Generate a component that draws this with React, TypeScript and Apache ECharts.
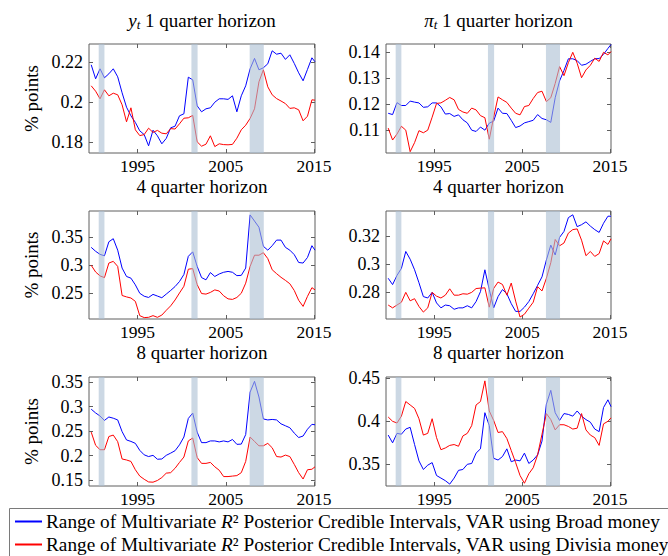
import React, { useEffect, useRef } from "react";
import * as echarts from "echarts";

// Semiannual sample dates (decimal years)
const times = [
  1989.75, 1990.25, 1990.75, 1991.25, 1991.75, 1992.25, 1992.75, 1993.25, 1993.75, 1994.25,
  1994.75, 1995.25, 1995.75, 1996.25, 1996.75, 1997.25, 1997.75, 1998.25, 1998.75, 1999.25,
  1999.75, 2000.25, 2000.75, 2001.25, 2001.75, 2002.25, 2002.75, 2003.25, 2003.75, 2004.25,
  2004.75, 2005.25, 2005.75, 2006.25, 2006.75, 2007.25, 2007.75, 2008.25, 2008.75, 2009.25,
  2009.75, 2010.25, 2010.75, 2011.25, 2011.75, 2012.25, 2012.75, 2013.25, 2013.75, 2014.25,
  2014.75, 2015.1,
];

// y_t, 1 quarter horizon
const yt1Broad = [
  0.2185, 0.2115, 0.2165, 0.212, 0.214, 0.2165, 0.2125, 0.2045, 0.1973, 0.193,
  0.1897, 0.1855, 0.1836, 0.178, 0.1858, 0.183, 0.179, 0.1817, 0.187, 0.1878,
  0.193, 0.194, 0.2123, 0.211, 0.198, 0.195, 0.1965, 0.197, 0.1998, 0.2015,
  0.2015, 0.2012, 0.203, 0.195, 0.203, 0.208, 0.2165, 0.2217, 0.216, 0.217,
  0.219, 0.2255, 0.2238, 0.2243, 0.2212, 0.2235, 0.2192, 0.2145, 0.2105, 0.2162,
  0.222, 0.22,
];
const yt1Divisia = [
  0.208, 0.2053, 0.2015, 0.206, 0.203, 0.2043, 0.2035, 0.1985, 0.19, 0.197,
  0.186, 0.1831, 0.1836, 0.1868, 0.1847, 0.1857, 0.1843, 0.184, 0.1866, 0.1864,
  0.189, 0.1918, 0.192, 0.1932, 0.18, 0.1778, 0.1788, 0.183, 0.1776, 0.179,
  0.1786, 0.1785, 0.1787, 0.1818, 0.186, 0.1883, 0.1917, 0.1965, 0.21, 0.216,
  0.2075, 0.2035, 0.2016, 0.2004, 0.1991, 0.1967, 0.197, 0.196, 0.1905, 0.1928,
  0.201, 0.2008,
];
// pi_t, 1 quarter horizon
const pi1Broad = [
  0.1165, 0.116, 0.1206, 0.1195, 0.1195, 0.1212, 0.1208, 0.1205, 0.1188, 0.119,
  0.1205, 0.1205, 0.119, 0.1162, 0.1164, 0.1153, 0.1159, 0.114, 0.1128, 0.11,
  0.1095, 0.1112, 0.11, 0.1127, 0.1135, 0.1185, 0.1165, 0.1164, 0.1138, 0.111,
  0.1116, 0.1128, 0.1133, 0.1138, 0.116, 0.1145, 0.114, 0.113, 0.1225, 0.129,
  0.133, 0.1375, 0.1375, 0.1368, 0.135, 0.1354, 0.1365, 0.1375, 0.1376, 0.1392,
  0.1415, 0.143,
];
const pi1Divisia = [
  0.1108, 0.1062, 0.1085, 0.1115, 0.11, 0.1017, 0.1052, 0.1098, 0.109, 0.11,
  0.115, 0.1203, 0.1205, 0.1215, 0.1226, 0.1217, 0.118, 0.117, 0.1165, 0.1185,
  0.1178, 0.1156, 0.1148, 0.1065, 0.115, 0.1228, 0.1217, 0.1207, 0.1185, 0.1165,
  0.1159, 0.1191, 0.1195, 0.1222, 0.1245, 0.125, 0.121, 0.1225, 0.128, 0.1345,
  0.131, 0.136, 0.14, 0.1358, 0.1302, 0.1332, 0.135, 0.1377, 0.1365, 0.14,
  0.139, 0.1403,
];
// y_t, 4 quarter horizon
const yt4Broad = [
  0.332, 0.325, 0.3195, 0.317, 0.342, 0.3475, 0.327, 0.295, 0.28, 0.277,
  0.265, 0.25, 0.2447, 0.2425, 0.248, 0.245, 0.242, 0.2485, 0.255, 0.262,
  0.271, 0.2835, 0.316, 0.324, 0.298, 0.278, 0.274, 0.287, 0.28, 0.2845,
  0.2875, 0.289, 0.2875, 0.2815, 0.282, 0.295, 0.39, 0.379, 0.368, 0.334,
  0.327, 0.335, 0.345, 0.345, 0.332, 0.327, 0.319, 0.305, 0.304, 0.314,
  0.335, 0.327,
];
const yt4Divisia = [
  0.3, 0.288, 0.281, 0.278, 0.304, 0.307, 0.298, 0.246, 0.2435, 0.2415,
  0.2355, 0.21, 0.2065, 0.207, 0.21, 0.207, 0.211, 0.2195, 0.2275, 0.238,
  0.2505, 0.2625, 0.293, 0.294, 0.2655, 0.2495, 0.2485, 0.2515, 0.256, 0.254,
  0.2455, 0.24, 0.239, 0.2425, 0.25, 0.268, 0.298, 0.318, 0.318, 0.3225,
  0.312, 0.292, 0.285, 0.2785, 0.273, 0.267, 0.255, 0.2375, 0.2265, 0.2445,
  0.26, 0.256,
];
// pi_t, 4 quarter horizon
const pi4Broad = [
  0.29, 0.2855, 0.292, 0.297, 0.309, 0.3035, 0.296, 0.2868, 0.277, 0.276,
  0.28, 0.2725, 0.269, 0.271, 0.2705, 0.268, 0.269, 0.269, 0.2705, 0.269,
  0.2735, 0.2805, 0.296, 0.282, 0.269, 0.277, 0.282, 0.279, 0.272, 0.2665,
  0.2665, 0.2695, 0.2735, 0.279, 0.285, 0.291, 0.303, 0.3135, 0.3065, 0.319,
  0.3232, 0.333, 0.335, 0.3266, 0.328, 0.33, 0.327, 0.3245, 0.3225, 0.329,
  0.334, 0.334,
];
const pi4Divisia = [
  0.271, 0.269, 0.271, 0.273, 0.28, 0.274, 0.2755, 0.27, 0.266, 0.269,
  0.28, 0.2773, 0.276, 0.278, 0.2825, 0.278, 0.278, 0.279, 0.2787, 0.28,
  0.2827, 0.283, 0.2832, 0.2695, 0.2828, 0.2873, 0.2856, 0.278, 0.2866, 0.2738,
  0.2625, 0.2645, 0.2688, 0.273, 0.284, 0.281, 0.29, 0.301, 0.3175, 0.313,
  0.315, 0.322, 0.3245, 0.325, 0.317, 0.306, 0.309, 0.3055, 0.3075, 0.3165,
  0.314, 0.318,
];
// y_t, 8 quarter horizon
const yt8Broad = [
  0.295, 0.2873, 0.281, 0.272, 0.279, 0.2765, 0.273, 0.249, 0.232, 0.229,
  0.225, 0.2107, 0.2015, 0.198, 0.2005, 0.1925, 0.193, 0.2005, 0.205, 0.21,
  0.222, 0.238, 0.276, 0.287, 0.248, 0.2265, 0.2265, 0.23, 0.23, 0.228,
  0.23, 0.228, 0.233, 0.223, 0.2235, 0.243, 0.33, 0.352, 0.32, 0.275,
  0.273, 0.274, 0.273, 0.265, 0.261, 0.257, 0.246, 0.237, 0.24, 0.254,
  0.264, 0.263,
];
const yt8Divisia = [
  0.248, 0.221, 0.212, 0.212, 0.239, 0.242, 0.2285, 0.193, 0.191, 0.188,
  0.171, 0.158, 0.1515, 0.146, 0.1455, 0.149, 0.155, 0.164, 0.165, 0.174,
  0.186, 0.197, 0.23, 0.236, 0.196, 0.184, 0.184, 0.186, 0.177, 0.17,
  0.157, 0.157, 0.158, 0.159, 0.165, 0.188, 0.238, 0.229, 0.22, 0.22,
  0.225, 0.216, 0.198, 0.197, 0.201, 0.198, 0.182, 0.165, 0.152, 0.171,
  0.172, 0.177,
];
// pi_t, 8 quarter horizon
const pi8Broad = [
  0.384, 0.375, 0.386, 0.385, 0.391, 0.393, 0.373, 0.354, 0.344, 0.349,
  0.352, 0.337, 0.334, 0.331, 0.327, 0.334, 0.343, 0.344, 0.35, 0.351,
  0.363, 0.368, 0.41, 0.395, 0.357, 0.355, 0.359, 0.368, 0.353, 0.355,
  0.354, 0.363, 0.351, 0.355, 0.361, 0.377, 0.42, 0.436, 0.41, 0.401,
  0.409, 0.408, 0.406, 0.412, 0.406, 0.402, 0.399, 0.391, 0.388, 0.416,
  0.425, 0.417,
];
const pi8Divisia = [
  0.405, 0.4, 0.398, 0.406, 0.423, 0.419, 0.415, 0.403, 0.384, 0.386,
  0.403, 0.381, 0.367, 0.369, 0.372, 0.373, 0.371, 0.383, 0.386, 0.395,
  0.419, 0.423, 0.447, 0.412, 0.401, 0.387, 0.388, 0.38, 0.366, 0.352,
  0.337, 0.328, 0.339, 0.346, 0.361, 0.385, 0.409, 0.402, 0.39, 0.396,
  0.396, 0.394, 0.391, 0.392, 0.409, 0.39, 0.384, 0.381, 0.372, 0.397,
  0.4, 0.404,
];

const recessions = [
  [1990.6, 1991.25],
  [2001.1, 2001.8],
  [2007.7, 2009.3],
];
const xTicks = [1995, 2005, 2015];
const yTicksYt1 = [0.18, 0.2, 0.22];
const yTicksPi1 = [0.11, 0.12, 0.13, 0.14];
const yTicksYt4 = [0.25, 0.3, 0.35];
const yTicksPi4 = [0.28, 0.3, 0.32];
const yTicksYt8 = [0.15, 0.2, 0.25, 0.3, 0.35];
const yTicksPi8 = [0.35, 0.4, 0.45];

const panelTitles = [
  "{i|y}{s|t} 1 quarter horizon",
  "{i|π}{s|t} 1 quarter horizon",
  "4 quarter horizon",
  "4 quarter horizon",
  "8 quarter horizon",
  "8 quarter horizon",
];
const legendNames = ["Broad", "Divisia"];
const legendTexts = [
  "Range of Multivariate {i|R}² Posterior Credible Intervals, VAR using Broad money",
  "Range of Multivariate {i|R}² Posterior Credible Intervals, VAR using Divisia money",
];

const FONT = "Liberation Serif, serif";
const FRAME = "#5f5f5f";
const BLUE = "#0000ff";
const RED = "#ff0000";

export default function App() {
  const ref = useRef<HTMLDivElement>(null);

  useEffect(() => {
    if (!ref.current) return;
    const chart = echarts.init(ref.current, undefined, { renderer: "svg" });

    const panels = [
      { broad: yt1Broad, divisia: yt1Divisia, min: 0.1744, max: 0.2289, ticks: yTicksYt1, left: 89, top: 44, width: 226, height: 109, titleTop: 10, yName: true },
      { broad: pi1Broad, divisia: pi1Divisia, min: 0.1012, max: 0.1432, ticks: yTicksPi1, left: 386, top: 44, width: 225, height: 109, titleTop: 10, yName: false },
      { broad: yt4Broad, divisia: yt4Divisia, min: 0.204, max: 0.397, ticks: yTicksYt4, left: 89, top: 211, width: 226, height: 108, titleTop: 177, yName: true },
      { broad: pi4Broad, divisia: pi4Divisia, min: 0.2611, max: 0.3377, ticks: yTicksPi4, left: 386, top: 211, width: 225, height: 108, titleTop: 177, yName: false },
      { broad: yt8Broad, divisia: yt8Divisia, min: 0.1377, max: 0.3609, ticks: yTicksYt8, left: 89, top: 377, width: 226, height: 109, titleTop: 343, yName: true },
      { broad: pi8Broad, divisia: pi8Divisia, min: 0.3248, max: 0.4515, ticks: yTicksPi8, left: 386, top: 377, width: 225, height: 109, titleTop: 343, yName: false },
    ];

    const grid: any[] = [];
    const xAxis: any[] = [];
    const yAxis: any[] = [];
    const series: any[] = [];
    const title: any[] = [];

    const tickStyle = { show: true, inside: true, length: 4, lineStyle: { color: FRAME, width: 1 } };
    const fmtY = (v: number) => String(Number(v.toFixed(4)));

    panels.forEach((p, i) => {
      grid.push({
        left: p.left,
        top: p.top,
        width: p.width,
        height: p.height,
        show: true,
        borderColor: FRAME,
        borderWidth: 1,
        backgroundColor: "transparent",
      });
      title.push({
        text: panelTitles[i],
        left: p.left + p.width / 2,
        top: p.titleTop,
        textAlign: "center",
        padding: 0,
        textStyle: {
          fontFamily: FONT,
          fontSize: 19,
          fontWeight: "normal",
          color: "#000",
          rich: {
            i: { fontFamily: FONT, fontSize: 19, fontStyle: "italic", color: "#000" },
            s: { fontFamily: FONT, fontSize: 13, fontStyle: "italic", color: "#000", padding: [8, 0, 0, 0] },
          },
        },
      });
      const xBase = {
        type: "value",
        gridIndex: i,
        min: 1989.5,
        max: 2015.1,
        splitLine: { show: false },
        axisLine: { show: false },
      };
      xAxis.push({
        ...xBase,
        position: "bottom",
        axisTick: { ...tickStyle, customValues: xTicks },
        axisLabel: {
          customValues: xTicks,
          formatter: (v: number) => String(Math.round(v)),
          fontFamily: FONT,
          fontSize: 17.5,
          color: "#000",
          margin: 4,
        },
      });
      xAxis.push({
        ...xBase,
        position: "top",
        axisTick: { ...tickStyle, customValues: xTicks },
        axisLabel: { show: false },
      });
      const yBase = {
        type: "value",
        gridIndex: i,
        min: p.min,
        max: p.max,
        splitLine: { show: false },
        axisLine: { show: false },
      };
      yAxis.push({
        ...yBase,
        position: "left",
        axisTick: { ...tickStyle, customValues: p.ticks },
        axisLabel: {
          customValues: p.ticks,
          formatter: fmtY,
          fontFamily: FONT,
          fontSize: 18,
          color: "#000",
          margin: 6,
        },
        name: p.yName ? "% points" : "",
        nameLocation: "middle",
        nameGap: 48,
        nameTextStyle: { fontFamily: FONT, fontSize: 19, color: "#000" },
      });
      yAxis.push({
        ...yBase,
        position: "right",
        axisTick: { ...tickStyle, customValues: p.ticks },
        axisLabel: { show: false },
      });
      const lineBase = {
        type: "line",
        xAxisIndex: 2 * i,
        yAxisIndex: 2 * i,
        showSymbol: false,
        symbol: "none",
        silent: true,
        clip: true,
      };
      series.push({
        ...lineBase,
        name: legendNames[0],
        data: times.map((t, k) => [t, p.broad[k]]),
        lineStyle: { color: BLUE, width: 1 },
        itemStyle: { color: BLUE },
      });
      series.push({
        ...lineBase,
        name: legendNames[1],
        data: times.map((t, k) => [t, p.divisia[k]]),
        lineStyle: { color: RED, width: 1 },
        itemStyle: { color: RED },
        markArea: {
          silent: true,
          z: 10,
          itemStyle: { color: "rgba(170,190,210,0.6)", borderWidth: 0 },
          data: recessions.map((r) => [{ xAxis: r[0] }, { xAxis: r[1] }]),
        },
      });
    });

    const legendBase = {
      orient: "horizontal",
      left: 15,
      itemWidth: 27,
      itemHeight: 2,
      itemGap: 0,
      icon: "rect",
      selectedMode: false,
      padding: 0,
      formatter: (name: string) => legendTexts[legendNames.indexOf(name)],
      textStyle: {
        fontFamily: FONT,
        fontSize: 19.3,
        color: "#000",
        padding: [0, 0, 0, -1],
        rich: {
          i: { fontFamily: FONT, fontSize: 19.3, fontStyle: "italic", color: "#000" },
        },
      },
    };

    chart.setOption({
      animation: false,
      backgroundColor: "#fff",
      title,
      grid,
      xAxis,
      yAxis,
      series,
      legend: [
        { ...legendBase, top: 512, data: [legendNames[0]] },
        { ...legendBase, top: 535, data: [legendNames[1]] },
      ],
      graphic: [
        {
          type: "rect",
          shape: { x: 9.5, y: 508.5, width: 720, height: 100 },
          style: { fill: "none", stroke: "#7a7a7a", lineWidth: 1 },
          silent: true,
          z: 0,
        },
      ],
    });

    return () => chart.dispose();
  }, []);

  return (
    <div
      ref={ref}
      style={{ position: "absolute", left: 0, top: 0, width: 668, height: 556 }}
    />
  );
}
